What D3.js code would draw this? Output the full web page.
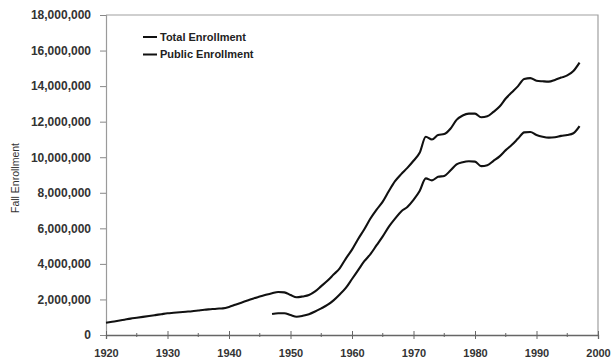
<!DOCTYPE html>
<html><head><meta charset="utf-8">
<script src="https://cdn.jsdelivr.net/npm/d3@7"></script>
<style>body{margin:0;background:#fff}svg{display:block}</style>
</head><body>
<svg id="c" width="613" height="360"></svg>
<script>
const totalYears = d3.range(1920, 1998);
const totalValues = [
 0.69,0.745,0.80,0.86,0.92,0.97,1.02,1.07,1.12,1.17,
 1.22,1.25,1.28,1.31,1.34,1.38,1.42,1.45,1.48,1.50,
 1.58,1.70,1.82,1.94,2.06,2.16,2.26,2.35,2.42,2.40,
 2.25,2.12,2.17,2.25,2.45,2.75,3.05,3.40,3.75,4.30,
 4.80,5.40,5.95,6.55,7.05,7.50,8.10,8.65,9.05,9.40,
 9.80,10.25,11.15,11.00,11.25,11.30,11.60,12.10,12.35,12.45,
 12.45,12.25,12.30,12.55,12.85,13.30,13.65,14.00,14.40,14.45,
 14.30,14.27,14.25,14.35,14.48,14.60,14.85,15.32
].map(v => v * 1e6);
const publicYears = d3.range(1947, 1998);
const publicValues = [
 1.18,1.22,1.22,
 1.12,1.03,1.08,1.17,1.32,1.50,1.69,1.95,2.28,2.65,
 3.15,3.65,4.15,4.55,5.05,5.55,6.10,6.55,6.95,7.20,
 7.60,8.10,8.81,8.70,8.90,8.95,9.25,9.60,9.72,9.77,
 9.75,9.50,9.55,9.80,10.05,10.40,10.70,11.05,11.40,11.42,
 11.25,11.15,11.10,11.12,11.20,11.25,11.35,11.75
].map(v => v * 1e6);
const seriesNames = ["Total Enrollment", "Public Enrollment"];
const xTicks = d3.range(1920, 2001, 10);
const xMinorTicks = d3.range(1925, 2000, 10);
const yTicks = d3.range(0, 18000001, 2000000);
const yTitle = "Fall Enrollment";

const svg = d3.select("#c");
const L = 106, R = 598, T = 15, B = 335;
const x = d3.scaleLinear().domain([1920, 2000]).range([L, R]);
const y = d3.scaleLinear().domain([0, 18000000]).range([B, T]);
const font = "'Liberation Sans', Arial, sans-serif";

// frame (top & right)
svg.append("path").attr("d", `M${L},${T}H${R}V${B}`)
  .attr("fill", "none").attr("stroke", "#a0a0a0").attr("stroke-width", 1.2);

// y axis
const ya = svg.append("g").attr("transform", `translate(${L},0)`)
  .call(d3.axisLeft(y).tickValues(yTicks).tickSize(6).tickPadding(9)
    .tickFormat(d3.format(",")));
ya.select(".domain").attr("stroke", "#9a9a9a").attr("stroke-width", 1.2);
ya.selectAll(".tick line").attr("stroke", "#888");
ya.selectAll("text").attr("font-family", font).attr("font-size", 12)
  .attr("font-weight", "bold").attr("fill", "#333");

// x axis
const xa = svg.append("g").attr("transform", `translate(0,${B})`)
  .call(d3.axisBottom(x).tickValues(xTicks).tickSize(4).tickPadding(10)
    .tickFormat(d3.format("d")));
xa.select(".domain").attr("stroke", "#666").attr("stroke-width", 1.3);
xa.selectAll(".tick line").attr("y1", -4).attr("stroke", "#666");
xa.selectAll("text").attr("font-family", font).attr("font-size", 11)
  .attr("font-weight", "bold").attr("fill", "#333");
svg.append("g").selectAll("line").data(xMinorTicks).join("line")
  .attr("x1", d => x(d)).attr("x2", d => x(d))
  .attr("y1", B - 2).attr("y2", B + 2).attr("stroke", "#666");

// y title
svg.append("text").attr("transform", `translate(19,178) rotate(-90)`)
  .attr("text-anchor", "middle").attr("font-family", font).attr("font-size", 10.5)
  .attr("fill", "#333").text(yTitle);

// lines
const line = d3.line().x(d => x(d[0])).y(d => y(d[1])).curve(d3.curveMonotoneX);
const totalData = d3.zip(totalYears, totalValues);
const publicData = d3.zip(publicYears, publicValues);
[totalData, publicData].forEach(dd => {
  svg.append("path").datum(dd).attr("d", line).attr("fill", "none")
    .attr("stroke", "#111").attr("stroke-width", 2.1).attr("stroke-linejoin", "round");
});

// legend
const lg = svg.append("g");
seriesNames.forEach((n, i) => {
  const yy = 37 + i * 17.5;
  lg.append("line").attr("x1", 143).attr("x2", 157).attr("y1", yy).attr("y2", yy)
    .attr("stroke", "#111").attr("stroke-width", 2);
  lg.append("text").attr("x", 160).attr("y", yy).attr("dy", "0.35em")
    .attr("font-family", font).attr("font-size", 11).attr("font-weight", "bold")
    .attr("fill", "#222").text(n);
});
</script>
</body></html>
